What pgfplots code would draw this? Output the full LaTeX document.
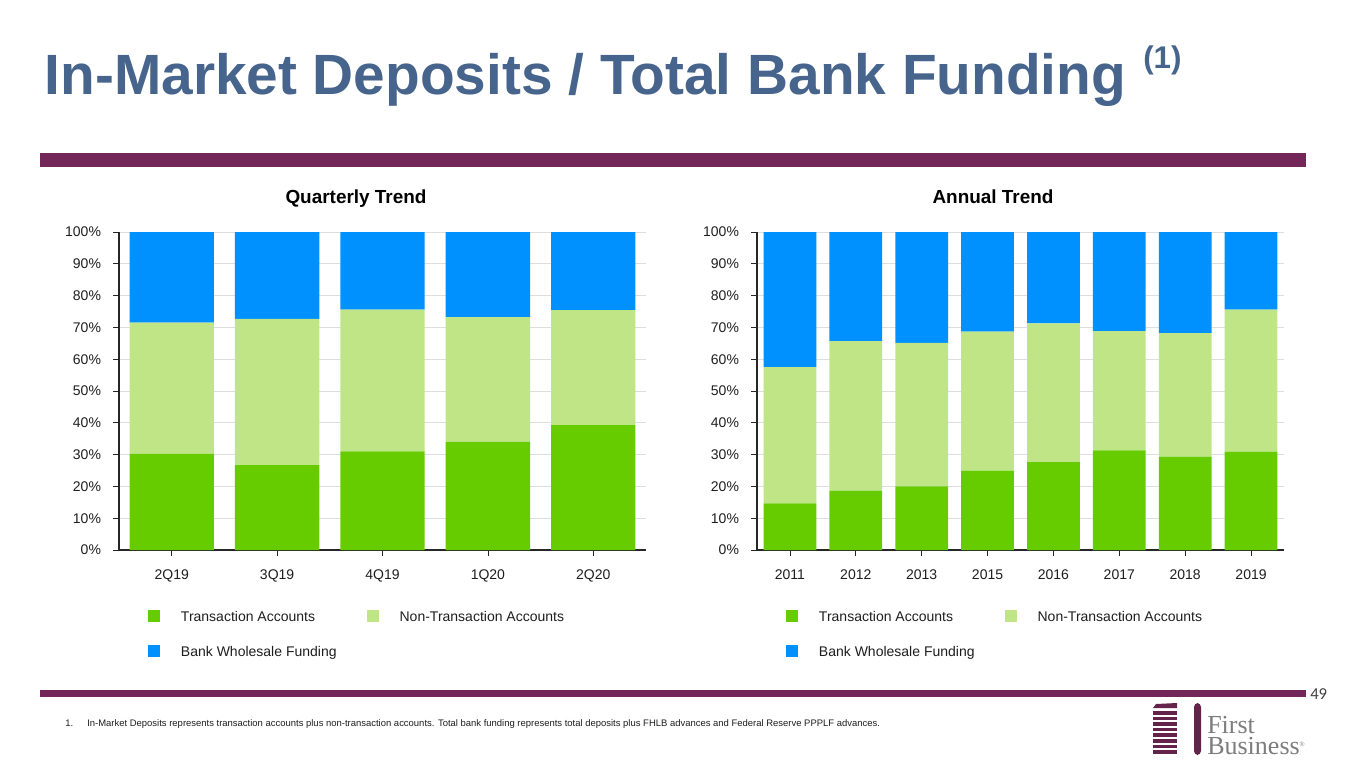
\documentclass[border=0pt]{standalone}
\usepackage{fontspec}
\setmainfont{Liberation Sans}
\newfontfamily\logofont{Liberation Serif}
\newfontfamily\pagefont{Carlito}
\usepackage{pgfplots}
\pgfplotsset{compat=1.18}
\usepackage{pgfplotstable}

\definecolor{titleblue}{RGB}{70,100,140}
\definecolor{fbpurple}{RGB}{115,38,88}
\definecolor{transgreen}{RGB}{102,204,0}
\definecolor{nontransgreen}{RGB}{192,229,134}
\definecolor{wholeblue}{RGB}{0,145,255}
\definecolor{gridgray}{RGB}{222,222,222}
\definecolor{txt}{RGB}{30,30,30}
\definecolor{logogray}{RGB}{125,125,125}
\definecolor{logopurple}{RGB}{100,35,75}

\pgfplotstableread{
x trans nontrans whole
0 30.2 41.3 28.5
1 26.7 46.0 27.3
2 31.0 44.6 24.4
3 34.0 39.2 26.8
4 39.3 36.1 24.6
}\quarterly

\pgfplotstableread{
x trans nontrans whole
0 14.7 42.8 42.5
1 18.7 47.0 34.3
2 20.0 45.1 34.9
3 25.0 43.7 31.3
4 27.6 43.7 28.7
5 31.3 37.5 31.2
6 29.4 38.8 31.8
7 30.9 44.7 24.4
}\annual

\pgfplotsset{
  fbstyle/.style={
    scale only axis, width=395.25pt, height=238.5pt,
    ybar stacked, bar width=0.8,
    ymin=0, ymax=100, ytick={0,10,...,100},
    yticklabel={\pgfmathprintnumber{\tick}\%},
    /pgf/number format/assume math mode=true,
    axis lines*=left, axis line style={-, line width=0.9pt, color=black!85},
    ymajorgrids, grid style={color=gridgray, line width=0.6pt},
    tick align=outside, major tick length=4.5pt,
    tick style={color=black!85, line width=0.6pt},
    xtick=data,
    ticklabel style={font=\fontsize{10.5}{12}\selectfont, text=txt},
    xticklabel style={yshift=-6.5pt},
    yticklabel style={xshift=-5.5pt},
    legend style={at={(0.055,-0.189)}, anchor=north west, draw=none, fill=none,
      inner sep=0pt, outer sep=0pt, row sep=17.25pt,
      font=\fontsize{10.5}{12}\selectfont, text=txt,
      nodes={inner sep=0pt, text height=7.5pt, text depth=0pt},
      /tikz/every odd column/.append style={column sep=15.75pt},
      /tikz/every even column/.append style={column sep=22.5pt}},
    legend columns=2, legend cell align=left,
    legend image code/.code={\fill[##1] (0pt,-4.5pt) rectangle (9pt,4.5pt);},
  },
}

\begin{document}
\begin{tikzpicture}
\begin{scope}[x=0.75pt, y=-0.75pt]
\path[use as bounding box] (0,0) rectangle (1365,768);

% title
\node[anchor=base west, inner sep=0pt, text=titleblue] at (44.5,94)
  {\fontsize{42.6}{50}\selectfont\bfseries In-Market Deposits / Total Bank Funding};
\node[anchor=base west, inner sep=0pt, text=titleblue] at (1143,68)
  {\fontsize{23.5}{27}\selectfont\bfseries (1)};

% purple rules
\fill[fbpurple] (40,153) rectangle (1306,167);
\fill[fbpurple] (40,690) rectangle (1306,697);

% chart titles
\node[anchor=base, inner sep=0pt, text=black] at (356,203)
  {\fontsize{14.2}{17}\selectfont\bfseries Quarterly Trend};
\node[anchor=base, inner sep=0pt, text=black] at (993,203)
  {\fontsize{14.2}{17}\selectfont\bfseries Annual Trend};

% page number
\node[anchor=base west, inner sep=0pt, text=black!75] at (1310,699)
  {\pagefont\fontsize{12.5}{14}\selectfont 49};

% footnote
\node[anchor=base west, inner sep=0pt, text=txt] at (65,726)
  {\fontsize{7.1}{8}\selectfont 1.};
\node[anchor=base west, inner sep=0pt, text=txt] at (87,726)
  {\fontsize{7.1}{8}\selectfont In-Market Deposits represents transaction accounts plus non-transaction accounts. Total bank funding represents total deposits plus FHLB advances and Federal Reserve PPPLF advances.};

% logo
\fill[logopurple] (1153,708) -- (1156,704) -- (1177,703) -- (1177,708) -- cycle;
\foreach \i in {0,...,7} {
  \fill[logopurple] (1153,{711+\i*5.6}) rectangle (1177,{714.5+\i*5.6});
}
\fill[logopurple, rounded corners=3pt] (1194,755) -- (1194,703) -- (1201,703) -- (1201,755) -- cycle;
\node[anchor=base west, inner sep=0pt, text=logogray, align=left,
  font=\logofont\fontsize{19.5}{15.75}\selectfont] at (1207,754)
  {First\\Business\raisebox{0.6ex}{\fontsize{5}{6}\selectfont\textregistered}};
\end{scope}

% quarterly
\begin{axis}[fbstyle, at={(89.25pt,-412.5pt)}, anchor=south west,
  xmin=-0.5, xmax=4.5,
  xticklabels={2Q19,3Q19,4Q19,1Q20,2Q20}]
\addplot[fill=transgreen, draw=none] table[x=x, y=trans] {\quarterly};
\addplot[fill=nontransgreen, draw=none] table[x=x, y=nontrans] {\quarterly};
\addplot[fill=wholeblue, draw=none] table[x=x, y=whole] {\quarterly};
\legend{Transaction Accounts, Non-Transaction Accounts, Bank Wholesale Funding}
\end{axis}

% annual
\begin{axis}[fbstyle, at={(567.75pt,-412.5pt)}, anchor=south west,
  xmin=-0.5, xmax=7.5,
  xticklabels={2011,2012,2013,2015,2016,2017,2018,2019}]
\addplot[fill=transgreen, draw=none] table[x=x, y=trans] {\annual};
\addplot[fill=nontransgreen, draw=none] table[x=x, y=nontrans] {\annual};
\addplot[fill=wholeblue, draw=none] table[x=x, y=whole] {\annual};
\legend{Transaction Accounts, Non-Transaction Accounts, Bank Wholesale Funding}
\end{axis}
\end{tikzpicture}
\end{document}
